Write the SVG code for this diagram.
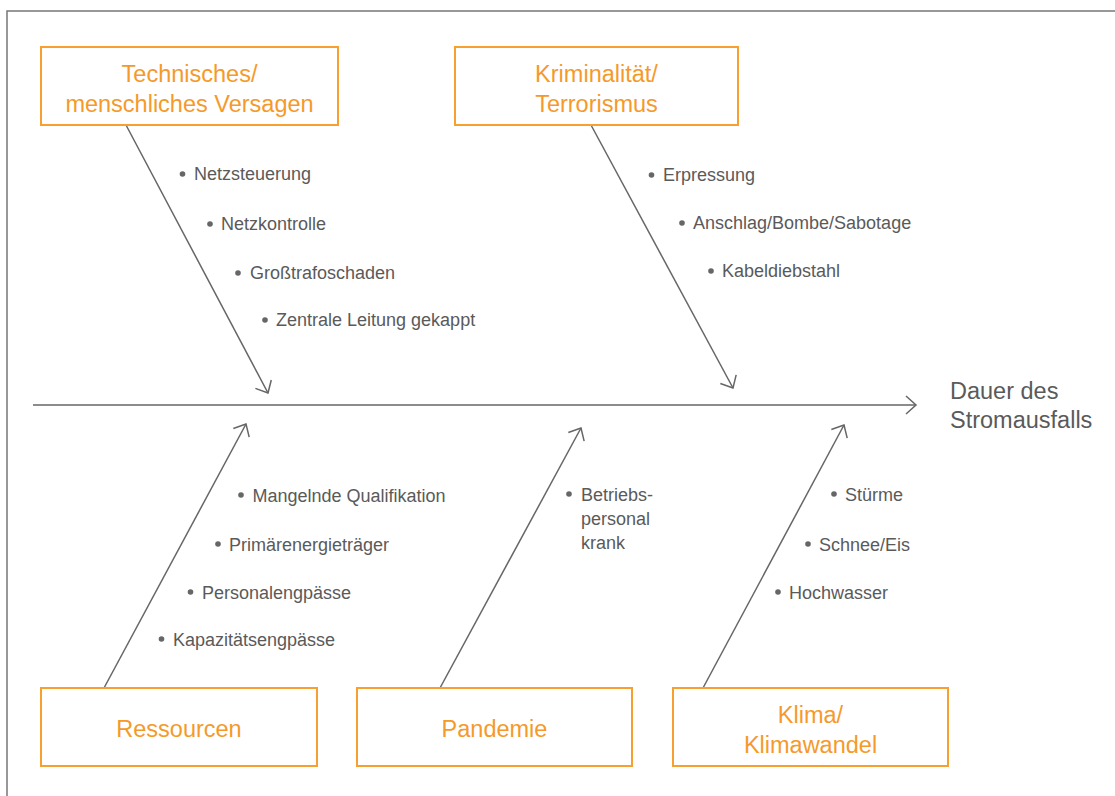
<svg xmlns="http://www.w3.org/2000/svg" width="1115" height="796" viewBox="0 0 1115 796">
<style>
.frame{fill:none;stroke:#777;stroke-width:1.5}
.box{fill:#fff;stroke:#F7A030;stroke-width:2}
.bt{font-family:"Liberation Sans",Arial,sans-serif;font-size:23.5px;fill:#F59A2A;text-anchor:middle}
.it{font-family:"Liberation Sans",Arial,sans-serif;font-size:18px;fill:#5a5a5a}
.dot{fill:#666}
.ln{fill:none;stroke:#666;stroke-width:1.5}
.lbl{font-family:"Liberation Sans",Arial,sans-serif;font-size:23.5px;fill:#5a5a5a}
</style>
<defs>
<marker id="arr" markerUnits="userSpaceOnUse" viewBox="-15 -15 30 30" markerWidth="30" markerHeight="30" refX="0" refY="0" orient="auto" overflow="visible">
<path d="M-10,-9 L0,0 L-10,9" fill="none" stroke="#666" stroke-width="1.5"/>
</marker>
</defs>
<rect class="frame" x="7" y="11" width="1200" height="900"/>
<g id="connectors">
<path class="ln" d="M33,405 L916,405" marker-end="url(#arr)"/>
<path class="ln" d="M126,125 L268,393" marker-end="url(#arr)"/>
<path class="ln" d="M591,125 L733,388" marker-end="url(#arr)"/>
<path class="ln" d="M104,688 L246,424" marker-end="url(#arr)"/>
<path class="ln" d="M440,688 L581,428" marker-end="url(#arr)"/>
<path class="ln" d="M703,688 L844,425" marker-end="url(#arr)"/>
</g>
<g id="effect">
<text class="lbl" x="950" y="399">Dauer des</text>
<text class="lbl" x="950" y="428">Stromausfalls</text>
</g>
<g id="technisch">
<rect class="box" x="41" y="47" width="297" height="78"/>
<text class="bt" x="189.5" y="82">Technisches/</text>
<text class="bt" x="189.5" y="112">menschliches Versagen</text>
<circle class="dot" cx="182.5" cy="174" r="2.8"/><text class="it" x="194" y="180">Netzsteuerung</text>
<circle class="dot" cx="210" cy="224" r="2.8"/><text class="it" x="221" y="230">Netzkontrolle</text>
<circle class="dot" cx="238" cy="273" r="2.8"/><text class="it" x="250" y="279">Großtrafoschaden</text>
<circle class="dot" cx="265" cy="320" r="2.8"/><text class="it" x="276" y="326">Zentrale Leitung gekappt</text>
</g>
<g id="kriminalitaet">
<rect class="box" x="455" y="47" width="283" height="78"/>
<text class="bt" x="596.5" y="82">Kriminalität/</text>
<text class="bt" x="596.5" y="112">Terrorismus</text>
<circle class="dot" cx="651.5" cy="175" r="2.8"/><text class="it" x="663" y="181">Erpressung</text>
<circle class="dot" cx="682" cy="223" r="2.8"/><text class="it" x="693" y="229">Anschlag/Bombe/Sabotage</text>
<circle class="dot" cx="711" cy="271" r="2.8"/><text class="it" x="722" y="277">Kabeldiebstahl</text>
</g>
<g id="ressourcen">
<rect class="box" x="41" y="688" width="276" height="78"/>
<text class="bt" x="179" y="737">Ressourcen</text>
<circle class="dot" cx="241" cy="495" r="2.8"/><text class="it" x="252.5" y="502">Mangelnde Qualifikation</text>
<circle class="dot" cx="218" cy="544" r="2.8"/><text class="it" x="229" y="551">Primärenergieträger</text>
<circle class="dot" cx="190.5" cy="592" r="2.8"/><text class="it" x="202" y="599">Personalengpässe</text>
<circle class="dot" cx="161.5" cy="639" r="2.8"/><text class="it" x="173" y="646">Kapazitätsengpässe</text>
</g>
<g id="pandemie">
<rect class="box" x="357" y="688" width="275" height="78"/>
<text class="bt" x="494.5" y="737">Pandemie</text>
<circle class="dot" cx="569" cy="494" r="2.8"/><text class="it" x="581" y="501">Betriebs-</text>
<text class="it" x="581" y="525">personal</text>
<text class="it" x="581" y="549">krank</text>
</g>
<g id="klima">
<rect class="box" x="673" y="688" width="275" height="78"/>
<text class="bt" x="810.5" y="723">Klima/</text>
<text class="bt" x="810.5" y="753">Klimawandel</text>
<circle class="dot" cx="834" cy="494" r="2.8"/><text class="it" x="845" y="501">Stürme</text>
<circle class="dot" cx="808" cy="544" r="2.8"/><text class="it" x="819" y="551">Schnee/Eis</text>
<circle class="dot" cx="778" cy="592" r="2.8"/><text class="it" x="789" y="599">Hochwasser</text>
</g>
</svg>
